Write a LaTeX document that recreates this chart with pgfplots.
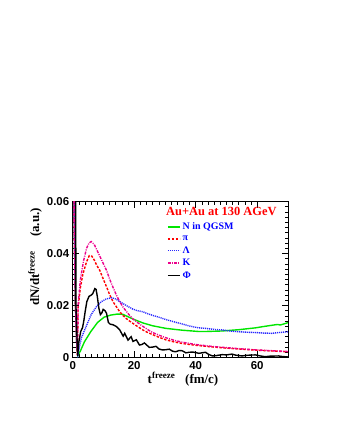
\documentclass[border=0pt]{standalone}
\usepackage{fontspec}
\setmainfont{Liberation Serif}
\newfontfamily\helv{Liberation Sans}
\usepackage{pgfplots}
\pgfplotsset{compat=1.18}

\definecolor{rootgreen}{RGB}{0,230,0}
\definecolor{rootblue}{RGB}{40,40,255}

\begin{document}
\begin{tikzpicture}
\useasboundingbox (0,0) rectangle (337bp,436bp);
\begin{axis}[
  scale only axis, width=215.3bp, height=156bp,
  at={(72.7bp,78.5bp)}, anchor=south west,
  xmin=0, xmax=70, ymin=0, ymax=0.06,
  xtick={0,20,40,60}, xticklabels={0,20,40,60},
  ytick={0,0.02,0.04,0.06}, yticklabels={0,0.02,0.04,0.06},
  minor x tick num=9, minor y tick num=9,
  scaled y ticks=false,
  tick align=inside,
  major tick length=6bp, minor tick length=3bp,
  every tick/.style={black, line width=0.6pt},
  axis line style={line width=0.8pt},
  tick label style={font=\helv\bfseries\fontsize{11.5}{12}\selectfont},
  legend style={draw=none, fill=none, at={(0.438,0.877)}, anchor=north west,
    font=\bfseries\fontsize{10}{10}\selectfont, text=blue,
    inner sep=0pt, row sep=0.6bp, cells={anchor=west}},
  legend image code/.code={\draw[#1] (0bp,0bp) -- (12bp,0bp);},
  legend cell align=left,
]
% N
\addplot[rootgreen, line width=1.4pt] coordinates {
  (0.2,0.1) (0.5,0.05) (0.9,0.02) (1.3,0.006) (1.7,0.0008) (2.5,0.0025)
  (3.8,0.0060) (5.9,0.0100) (8.1,0.0135) (10.2,0.0155) (12.3,0.0163)
  (14.5,0.0167) (16.3,0.0166) (17.4,0.0160) (19.6,0.0148) (22.8,0.0133)
  (26,0.0122) (30.3,0.0112) (35.6,0.0105) (41,0.0100) (43.2,0.0100)
  (48.6,0.0102) (54,0.0107) (59.4,0.0114) (62,0.0119) (64.8,0.0124)
  (66.5,0.0127) (67.5,0.0125) (70,0.0134)};
\addlegendentry{N in QGSM}
% pi
\addplot[red, line width=1.4pt, dash pattern=on 2.5bp off 1.5bp] coordinates {
  (0.2,0.1) (0.5,0.05) (0.9,0.02) (1.3,0.006) (1.55,0.001) (1.75,0.019)
  (2.5,0.027) (3.3,0.032) (4.5,0.0368) (5.4,0.0392) (6.2,0.0390) (7,0.0375)
  (7.8,0.0355) (8.8,0.0335) (10,0.0300) (11,0.0272) (12,0.0242) (13.1,0.0215)
  (14.2,0.0195) (15.3,0.0176) (16.3,0.0162) (17.4,0.0150) (18.5,0.0140)
  (19.6,0.0131) (21,0.0120) (22.8,0.0106) (24.4,0.0096) (26,0.0088)
  (28,0.0078) (30.3,0.0068) (33,0.0060) (35.6,0.0054) (38,0.0050)
  (40,0.0047) (45,0.0041) (50,0.0036) (55,0.0032) (60,0.0028) (65,0.0025)
  (70,0.0022)};
\addlegendentry{π}
% Lambda
\addplot[rootblue, line width=1.4pt, dash pattern=on 1.1bp off 0.9bp] coordinates {
  (0.2,0.1) (0.5,0.05) (0.9,0.02) (1.3,0.006) (1.7,0.0012) (2.8,0.0075)
  (4.4,0.0120) (6,0.0165) (7.7,0.0195) (9.3,0.0215) (10.9,0.0225)
  (12.6,0.0230) (14,0.0225) (15.3,0.0215) (17.4,0.0200) (19.6,0.0186)
  (21,0.0180) (22.8,0.0176) (24,0.0170) (26,0.0162) (28,0.0155)
  (30.3,0.0146) (33,0.0137) (35.6,0.0129) (38,0.0121) (41,0.0114)
  (43.2,0.0112) (46,0.0108) (48.6,0.0106) (51,0.0102) (54,0.0099)
  (57,0.0097) (59.4,0.0096) (62,0.0094) (64.8,0.0093) (67,0.0096)
  (70,0.0099)};
\addlegendentry{Λ}
% K
\addplot[magenta, line width=1.4pt, dash pattern=on 3bp off 1.2bp on 1bp off 1.2bp] coordinates {
  (0.2,0.1) (0.5,0.05) (0.9,0.02) (1.3,0.006) (1.55,0.001) (1.75,0.020)
  (2.5,0.030) (3.5,0.037) (4.5,0.042) (5.3,0.0440) (6.0,0.0446) (7,0.0435)
  (8,0.0410) (8.8,0.0390) (10,0.0360) (11,0.0335) (12,0.0302) (13.1,0.0270)
  (14.2,0.0240) (15.3,0.0215) (16.3,0.0195) (17.4,0.0178) (18.5,0.0162)
  (19.6,0.0148) (21,0.0135) (22.8,0.0120) (24.4,0.0107) (26,0.0096)
  (28,0.0086) (30.3,0.0076) (33,0.0066) (35.6,0.0059) (38,0.0054)
  (40,0.0050) (45,0.0043) (50,0.0038) (55,0.0033) (60,0.0029) (65,0.0026)
  (70,0.0023)};
\addlegendentry{K}
% Phi
\addplot[black, line width=1.4pt] coordinates {
  (0.9,0.1) (1.05,0.02) (1.6,0.0005) (2.0,0.006) (2.6,0.010) (3.2,0.0115)
  (3.6,0.014) (4.1,0.018) (4.6,0.0215) (5.3,0.0235) (6.0,0.0240)
  (6.5,0.0245) (7.2,0.0265) (7.6,0.0262) (8.0,0.0235) (8.5,0.0190)
  (9.0,0.0165) (9.5,0.0172) (9.9,0.0185) (10.5,0.0180) (11,0.0170)
  (11.6,0.0135) (12.2,0.0128) (13.1,0.0126) (14.2,0.0119) (15.3,0.0106)
  (16.4,0.0082) (16.9,0.0093) (18,0.0067) (19,0.0080) (19.6,0.0062)
  (20.7,0.0068) (21.7,0.0048) (22.5,0.0050) (23.3,0.0056) (24.9,0.0039)
  (26,0.0040) (27.1,0.0043) (28,0.0033) (29.2,0.0029) (30.3,0.0030)
  (31.4,0.0032) (32.5,0.0024) (33.5,0.0022) (34.6,0.0027) (35.6,0.0026)
  (36.8,0.0018) (37.8,0.0020) (39,0.0021) (40,0.0019) (41,0.0016)
  (42,0.0018) (43.2,0.0020) (44.2,0.0012) (45.4,0.0006) (46.5,0.0007)
  (47.5,0.0009) (48.6,0.0011) (50,0.0010) (51.8,0.0013) (53,0.0009)
  (55.1,0.0006) (56.1,0.0008) (57.5,0.0009) (59.4,0.0010) (61,0.0006)
  (62.6,0.0003) (64,0.0005) (66.9,0.0006) (68,0.0004) (70,0.0002)};
\addlegendentry{Φ}
\node[anchor=base west, inner sep=0pt, text=red,
  font=\bfseries\fontsize{12.5}{13}\selectfont] at (axis cs:30.3,0.05454)
  {Au+Au at 130 AGeV};
\end{axis}
% axis labels
\node[rotate=90, anchor=base east, inner sep=0pt,
  font=\bfseries\fontsize{13}{14}\selectfont] at (39bp,228bp)
  {dN/dt\textsuperscript{freeze}\hspace{1.05em}(a.u.)};
\node[anchor=base, inner sep=0pt,
  font=\bfseries\fontsize{13}{14}\selectfont] at (183bp,52.7bp)
  {t\textsuperscript{freeze}\hspace{0.75em}(fm/c)};
\end{tikzpicture}
\end{document}
